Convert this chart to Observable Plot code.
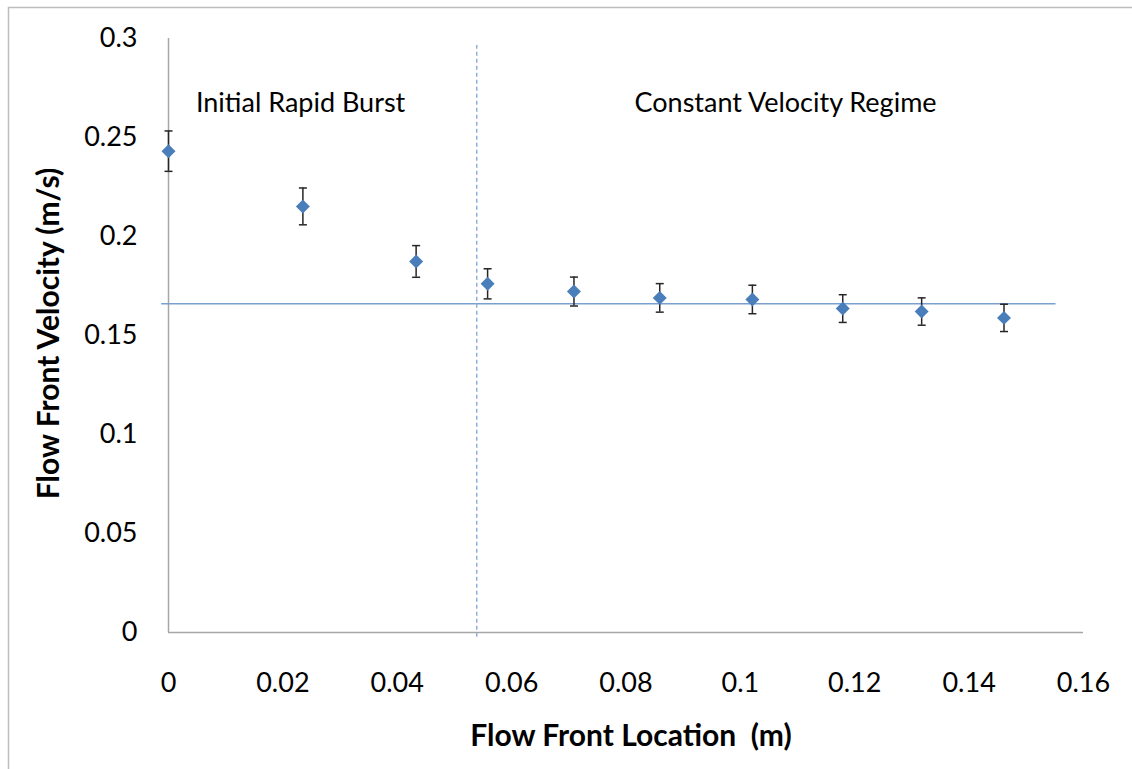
<!DOCTYPE html>
<html>
<head>
<meta charset="utf-8">
<script src="https://cdn.jsdelivr.net/npm/d3@7"></script>
<script src="https://cdn.jsdelivr.net/npm/@observablehq/plot@0.6"></script>
<style>
  html, body { margin: 0; padding: 0; background: #fff; }
  #chart svg { display: block; }
</style>
</head>
<body>
<div id="chart"></div>
<script>
// Data
const location_m = [0.0, 0.0235, 0.0433, 0.0558, 0.0709, 0.0859, 0.1021, 0.1179, 0.1317, 0.1461];
const velocity = [0.2431, 0.2152, 0.1874, 0.1761, 0.1722, 0.1690, 0.1682, 0.1636, 0.1621, 0.1589];
const errorBar = [0.0102, 0.0093, 0.0080, 0.0076, 0.0073, 0.0072, 0.0072, 0.0070, 0.0069, 0.0069];

// Reference lines
const constantVelocity = 0.166;
const constantLineX = [-0.0012, 0.1552];
const regimeBoundary = 0.0539;
const boundaryY = [-0.0024, 0.2965];

// Annotations
const regionLabels = ["Initial Rapid Burst", "Constant Velocity Regime"];
const regionLabelX = [0.0231, 0.1079];
const regionLabelY = [0.2672, 0.2672];

// Ticks
const xTicks = [0, 0.02, 0.04, 0.06, 0.08, 0.1, 0.12, 0.14, 0.16];
const yTicks = [0, 0.05, 0.1, 0.15, 0.2, 0.25, 0.3];

const xTitle = "Flow Front Location  (m)";
const yTitle = "Flow Front Velocity (m/s)";

const points = location_m.map((x, i) => ({x, y: velocity[i], lo: velocity[i] - errorBar[i], hi: velocity[i] + errorBar[i]}));
const labels = regionLabels.map((t, i) => ({t, x: regionLabelX[i], y: regionLabelY[i]}));

const fmt = d => String(+d.toFixed(3));
const cap = { draw(ctx) { ctx.moveTo(-4, 0); ctx.lineTo(4, 0); } };
const FONT = "Lato, 'Open Sans', sans-serif";

const chart = Plot.plot({
  width: 1132,
  height: 769,
  marginLeft: 168,
  marginRight: 49,
  marginTop: 38,
  marginBottom: 137,
  style: { fontFamily: FONT, background: "#fff", color: "#000" },
  x: { domain: [0, 0.16] },
  y: { domain: [0, 0.3] },
  marks: [
    // axis lines
    Plot.ruleX([0], { y1: 0, y2: 0.3, stroke: "#a6a6a6", strokeWidth: 1.5 }),
    Plot.ruleY([0], { x1: 0, x2: 0.16, stroke: "#a6a6a6", strokeWidth: 1.5 }),
    Plot.axisX({ ticks: xTicks, tickFormat: fmt, tickSize: 0, tickPadding: 40, fontSize: 27, label: null }),
    Plot.axisY({ ticks: yTicks, tickFormat: fmt, tickSize: 0, tickPadding: 31, fontSize: 27, label: null }),
    // reference lines
    Plot.ruleY([constantVelocity], { x1: constantLineX[0], x2: constantLineX[1], stroke: "#7aa0d0", strokeWidth: 1.6, clip: false }),
    Plot.ruleX([regimeBoundary], { y1: boundaryY[0], y2: boundaryY[1], stroke: "#8fb0dc", strokeWidth: 1.5, strokeDasharray: "4,3" }),
    // error bars
    Plot.ruleX(points, { x: "x", y1: "lo", y2: "hi", stroke: "#262626", strokeWidth: 1.5 }),
    Plot.dot(points, { x: "x", y: "lo", symbol: cap, r: 4, stroke: "#262626", strokeWidth: 1.5, fill: "none" }),
    Plot.dot(points, { x: "x", y: "hi", symbol: cap, r: 4, stroke: "#262626", strokeWidth: 1.5, fill: "none" }),
    // markers
    Plot.dot(points, { x: "x", y: "y", symbol: "diamond2", r: 6.3, fill: "#4a7ebb", stroke: "none" }),
    // annotations
    Plot.text(labels, { x: "x", y: "y", text: "t", fontSize: 27, fill: "#000" }),
    // axis titles
    Plot.text([xTitle], { frameAnchor: "bottom", dx: 5, dy: 113, fontSize: 30, fontWeight: "bold", fill: "#000" }),
    Plot.text([yTitle], { frameAnchor: "left", textAnchor: "middle", dx: -119, dy: -2, rotate: -90, fontSize: 30, fontWeight: "bold", fill: "#000" })
  ]
});

d3.select(chart).append("rect")
  .attr("x", 8.5).attr("y", 7.5).attr("width", 1300).attr("height", 900)
  .attr("fill", "none").attr("stroke", "#bdbdbd").attr("stroke-width", 1.5);

document.getElementById("chart").append(chart);
</script>
</body>
</html>
